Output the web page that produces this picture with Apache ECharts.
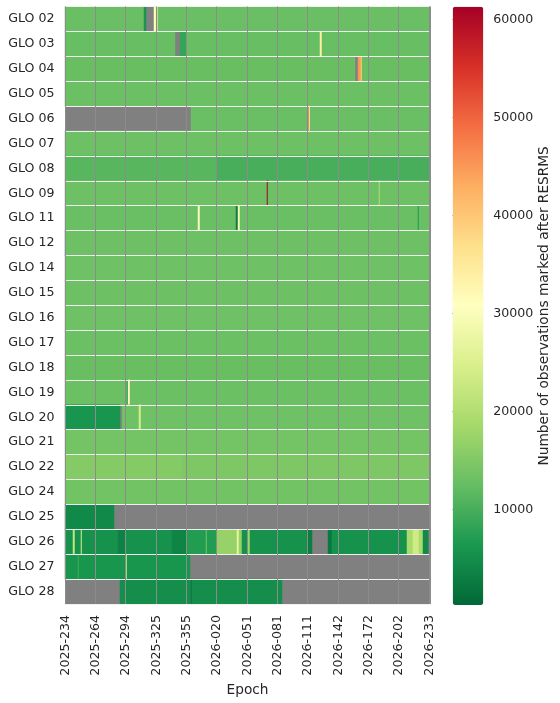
<!DOCTYPE html>
<html>
<head>
<meta charset="utf-8">
<title>GLO RESRMS heatmap</title>
<script src="https://cdn.jsdelivr.net/npm/echarts@6/dist/echarts.min.js"></script>
<style>
  html, body { margin: 0; padding: 0; background: #ffffff; }
  #chart { width: 560px; height: 703px; }
</style>
</head>
<body>
<div id="chart"></div>
<script>
// rows, top to bottom
var satellites = ['GLO 02', 'GLO 03', 'GLO 04', 'GLO 05', 'GLO 06', 'GLO 07', 'GLO 08', 'GLO 09',
  'GLO 11', 'GLO 12', 'GLO 14', 'GLO 15', 'GLO 16', 'GLO 17', 'GLO 18', 'GLO 19',
  'GLO 20', 'GLO 21', 'GLO 22', 'GLO 24', 'GLO 25', 'GLO 26', 'GLO 27', 'GLO 28'];

// epochs are days counted from 2025-001 (366 = 2026-001)
var firstDay = 234;
var lastDay = 598;

var tickLabels = ['2025-234', '2025-264', '2025-294', '2025-325', '2025-355', '2026-020', '2026-051',
  '2026-081', '2026-111', '2026-142', '2026-172', '2026-202', '2026-233'];

// usual level of each row, null = no data
var rowLevel = [12900, 12600, 12800, 13000, 12900, 13100, 10200, 13100,
  12900, 13200, 13300, 13200, 13300, 13000, 12800, 13000,
  13300, 13800, 14700, 13700, null, 5600, 6200, 5200];

// stretches that differ from the row level: [fromDay, toDay, value], null = no data
var rowRuns = [
  [[313, 314, 6000], [315, 322, null], [323, 324, 31000], [325, 326, 24000]],            // GLO 02
  [[344, 348, null], [349, 355, 8500], [489, 490, 34000]],                                // GLO 03
  [[524, 526, null], [527, 529, 45000], [530, 530, 38000]],                               // GLO 04
  [],                                                                                     // GLO 05
  [[234, 359, null], [477, 477, 50000], [478, 478, 33000]],                               // GLO 06
  [],                                                                                     // GLO 07
  [[234, 385, 11300]],                                                                    // GLO 08
  [[436, 436, 61290], [548, 548, 20000]],                                                 // GLO 09
  [[367, 368, 31500], [405, 406, 3000], [407, 408, 29500], [587, 587, 6500]],             // GLO 11
  [[234, 234, 6000]],                                                                     // GLO 12
  [], [], [], [], [],                                                                     // GLO 14-18
  [[296, 296, 5000], [297, 298, 31000]],                                                  // GLO 19
  [[234, 288, 6000], [289, 290, null], [308, 309, 24500]],                                // GLO 20
  [],                                                                                     // GLO 21
  [[234, 350, 15400]],                                                                    // GLO 22
  [],                                                                                     // GLO 24
  [[234, 282, 4500]],                                                                     // GLO 25
  [[242, 243, 22000], [250, 250, 25000], [287, 294, 3500], [341, 355, 3800],
   [356, 385, 7000], [375, 375, 14000], [386, 410, 17000], [406, 407, 27000],
   [417, 418, 18000], [476, 480, 3000], [481, 496, null], [497, 500, 2500],
   [576, 591, 19000], [582, 587, 23500], [592, 596, 4500], [597, 597, null],
   [598, 598, 3000]],                                                                     // GLO 26
  [[247, 247, 9500], [295, 295, 25000], [359, 598, null]],                                // GLO 27
  [[234, 288, null], [360, 360, 2000], [451, 598, null]]                                  // GLO 28
];

// colour bar
var colorMin = 225;
var colorMax = 61290;
var colorTicks = [10000, 20000, 30000, 40000, 50000, 60000];
var palette = ['#006837', '#1a9850', '#66bd63', '#a6d96a', '#d9ef8b', '#ffffbf',
  '#fee08b', '#fdae61', '#f46d43', '#d73027', '#a50026'];

function epochName(day) {
  var year = day > 365 ? 2026 : 2025;
  var doy = day > 365 ? day - 365 : day;
  return year + '-' + ('00' + doy).slice(-3);
}

var epochs = [];
for (var d = firstDay; d <= lastDay; d++) {
  epochs.push(epochName(d));
}

var cells = [];
for (var r = 0; r < satellites.length; r++) {
  for (var day = firstDay; day <= lastDay; day++) {
    var v = rowLevel[r];
    for (var k = 0; k < rowRuns[r].length; k++) {
      var run = rowRuns[r][k];
      if (day >= run[0] && day <= run[1]) v = run[2];
    }
    if (v !== null) cells.push([day - firstDay, r, v]);
  }
}

function isTick(index, value) {
  return tickLabels.indexOf(value) !== -1;
}

var font = 'DejaVu Sans';
var ink = '#262626';

var chart = echarts.init(document.getElementById('chart'), null, { renderer: 'canvas' });

var option = {
  backgroundColor: '#ffffff',
  animation: false,
  textStyle: { fontFamily: font },
  grid: [{
    left: 65, top: 6.5, width: 365, height: 597.5,
    show: true, backgroundColor: '#808080', borderWidth: 0
  }, {
    left: 452.7, top: 6.7, width: 30.6, height: 598.3,
    show: false
  }],
  xAxis: [{
    gridIndex: 0,
    type: 'category',
    data: epochs,
    z: 3,
    axisLine: { show: false },
    axisTick: { show: false },
    axisLabel: {
      interval: isTick, rotate: 90, margin: 11,
      fontSize: 12.6, color: ink, fontFamily: font
    },
    splitLine: { show: true, interval: isTick, lineStyle: { color: '#8c8c8c', width: 1 } },
    name: 'Epoch',
    nameLocation: 'middle',
    nameGap: 75,
    nameTextStyle: { fontSize: 13.7, color: ink, fontFamily: font }
  }, {
    gridIndex: 1, type: 'value', show: false
  }],
  yAxis: [{
    gridIndex: 0,
    type: 'category',
    data: satellites,
    inverse: true,
    z: 3,
    axisLine: { show: false },
    axisTick: { show: false },
    axisLabel: { margin: 10.5, fontSize: 12.6, color: ink, fontFamily: font },
    splitLine: { show: true, lineStyle: { color: '#f0f0f0', width: 1 } }
  }, {
    gridIndex: 1,
    type: 'value',
    position: 'right',
    min: colorMin,
    max: colorMax,
    axisLine: { show: false },
    axisTick: { show: true, length: 4.5, customValues: colorTicks, lineStyle: { color: ink, width: 1 } },
    axisLabel: {
      customValues: colorTicks, margin: 10, fontSize: 12.6, color: ink, fontFamily: font,
      formatter: function (val) { return String(val); }
    },
    splitLine: { show: false },
    name: 'Number of observations marked after RESRMS',
    nameLocation: 'middle',
    nameRotate: 90,
    nameGap: 51,
    nameTextStyle: { fontSize: 13.7, color: ink, fontFamily: font }
  }],
  visualMap: {
    type: 'continuous',
    min: colorMin,
    max: colorMax,
    dimension: 2,
    seriesIndex: 0,
    orient: 'vertical',
    left: 452.7,
    top: 6.7,
    itemWidth: 30.6,
    itemHeight: 598.3,
    padding: 0,
    calculable: false,
    hoverLink: false,
    inRange: { color: palette }
  },
  series: [{
    type: 'heatmap',
    xAxisIndex: 0,
    yAxisIndex: 0,
    data: cells,
    progressive: 0,
    itemStyle: { borderWidth: 0 },
    emphasis: { disabled: true }
  }]
};

chart.setOption(option);
</script>
</body>
</html>
